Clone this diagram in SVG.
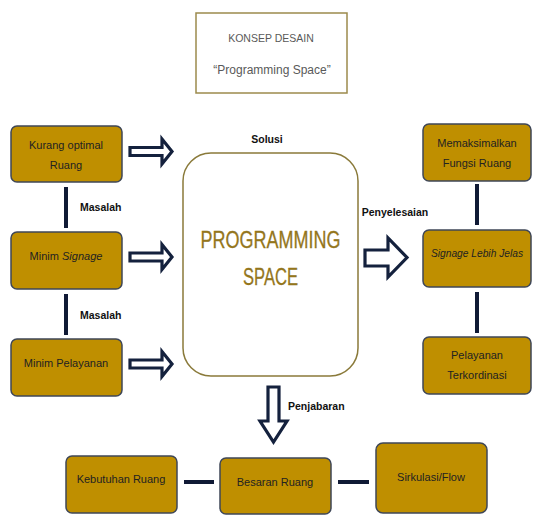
<svg xmlns="http://www.w3.org/2000/svg" width="533" height="515" viewBox="0 0 533 515">
<style>
.box{fill:#BF8F00;stroke:#3f4757;stroke-width:1.5}
.bt{font-family:"Liberation Sans",Arial,sans-serif;font-size:11px;fill:#222;text-anchor:middle}
.lbl{font-family:"Liberation Sans",Arial,sans-serif;font-size:10.5px;font-weight:bold;fill:#111;}
.ln{stroke:#101a35;stroke-width:4;fill:none}
.arr{fill:#fff;stroke:#14213d;stroke-width:3.2;stroke-linejoin:miter}
</style>
<rect width="533" height="515" fill="#fff"/>
<g id="title">
<rect x="196" y="13" width="151" height="80" fill="#fff" stroke="#9c8a4c" stroke-width="1.5"/>
<text x="271" y="42" font-family="Liberation Sans,Arial,sans-serif" font-size="10.5" fill="#595959" text-anchor="middle">KONSEP DESAIN</text>
<text x="272" y="74" font-family="Liberation Sans,Arial,sans-serif" font-size="12" fill="#595959" text-anchor="middle">“Programming Space”</text>
</g>
<g id="connectors">
<line class="ln" x1="66" y1="187" x2="66" y2="228"/>
<line class="ln" x1="66" y1="294" x2="66" y2="335"/>
<line class="ln" x1="477" y1="184" x2="477" y2="225"/>
<line class="ln" x1="477" y1="292" x2="477" y2="333"/>
<line class="ln" x1="184" y1="482" x2="214" y2="482"/>
<line class="ln" x1="338" y1="482" x2="369" y2="482"/>
<path class="arr" d="M130,147.5 H162 V139 L172,151.5 L162,164 V155.5 H130 Z"/>
<path class="arr" d="M130,253 H162 V244.5 L172,257 L162,269.5 V261 H130 Z"/>
<path class="arr" d="M130,360 H162 V351.5 L172,364 L162,376.5 V368 H130 Z"/>
<path class="arr" d="M365,250 H388 V238 L407,257.5 L388,277 V266 H365 Z"/>
<path class="arr" d="M268,387 H279 V421 H287 L273.5,442 L260,421 H268 Z"/>
<text class="lbl" x="80" y="211">Masalah</text>
<text class="lbl" x="80" y="319">Masalah</text>
<text class="lbl" x="267" y="143" text-anchor="middle">Solusi</text>
<text class="lbl" x="395" y="216" text-anchor="middle">Penyelesaian</text>
<text class="lbl" x="288" y="410">Penjabaran</text>
</g>
<g id="center">
<rect x="183" y="153" width="175" height="223" rx="28" fill="#fff" stroke="#8a7a3a" stroke-width="1.5"/>
<text x="270.5" y="248" font-family="Liberation Sans,Arial,sans-serif" font-size="23" fill="#94761c" stroke="#94761c" stroke-width="0.3" text-anchor="middle" textLength="140" lengthAdjust="spacingAndGlyphs">PROGRAMMING</text>
<text x="270.5" y="285" font-family="Liberation Sans,Arial,sans-serif" font-size="23" fill="#94761c" stroke="#94761c" stroke-width="0.3" text-anchor="middle" textLength="55" lengthAdjust="spacingAndGlyphs">SPACE</text>
</g>
<g id="n1"><rect class="box" x="11" y="126" width="111" height="56" rx="6"/><text class="bt" x="66" y="149">Kurang optimal</text><text class="bt" x="66" y="169">Ruang</text></g>
<g id="n2"><rect class="box" x="11" y="232" width="111" height="57" rx="6"/><text class="bt" x="66" y="260">Minim <tspan font-style="italic">Signage</tspan></text></g>
<g id="n3"><rect class="box" x="11" y="339" width="111" height="57" rx="6"/><text class="bt" x="66" y="367">Minim Pelayanan</text></g>
<g id="n4"><rect class="box" x="423" y="124" width="108" height="57" rx="6"/><text class="bt" x="477" y="147">Memaksimalkan</text><text class="bt" x="477" y="167">Fungsi Ruang</text></g>
<g id="n5"><rect class="box" x="423" y="230" width="108" height="57" rx="6"/><text class="bt" x="477" y="257" font-style="italic" textLength="92" lengthAdjust="spacingAndGlyphs">Signage Lebih Jelas</text></g>
<g id="n6"><rect class="box" x="423" y="337" width="108" height="57" rx="6"/><text class="bt" x="477" y="359">Pelayanan</text><text class="bt" x="477" y="379">Terkordinasi</text></g>
<g id="n7"><rect class="box" x="66" y="456" width="111" height="57" rx="6"/><text class="bt" x="121" y="483">Kebutuhan Ruang</text></g>
<g id="n8"><rect class="box" x="220" y="458" width="111" height="56" rx="6"/><text class="bt" x="275" y="486">Besaran Ruang</text></g>
<g id="n9"><rect class="box" x="376" y="443" width="111" height="70" rx="7"/><text class="bt" x="431" y="481">Sirkulasi/Flow</text></g>
</svg>
